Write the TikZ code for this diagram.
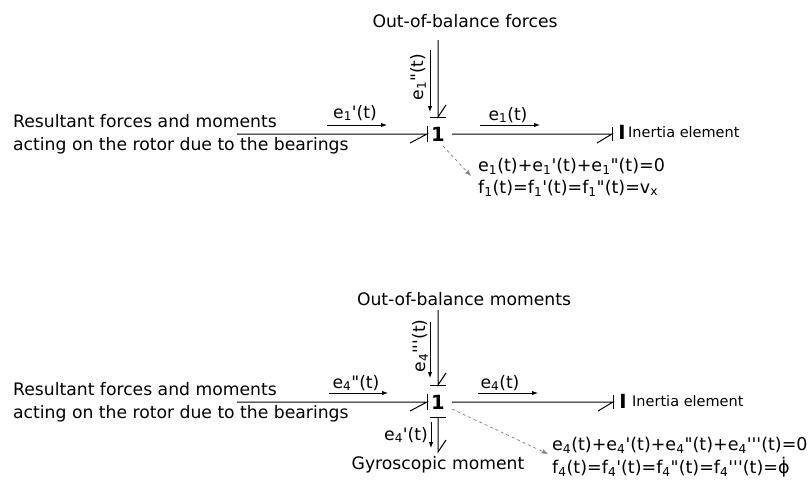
\documentclass[tikz,border=0pt]{standalone}
\usepackage{fontspec}
\setmainfont{DejaVu Sans}[Ligatures=TeXOff]
\usetikzlibrary{arrows.meta}

\begin{document}
\begin{tikzpicture}[
  x=1pt, y=-1pt,
  every node/.style={inner sep=0pt, font=\fontsize{17.2}{23}\selectfont},
  lbl/.style={anchor=west, align=left},
  eqn/.style={anchor=west, font=\fontsize{17.5}{17.5}\selectfont},
  junc/.style={font=\fontsize{19.5}{19.5}\selectfont\bfseries},
  small/.style={font=\fontsize{14.5}{14.5}\selectfont},
  bond/.style={line width=1pt},
  flow/.style={line width=0.9pt, -{Latex[length=6pt,width=4.5pt]}},
  info/.style={gray, dashed, line width=0.7pt, -{Latex[length=6pt,width=4.5pt]}},
]
\useasboundingbox (0,0) rectangle (810,480);

\node[lbl] (src1) at (13,134) {Resultant forces and moments\\acting on the rotor due to the bearings};
\node (ob1) at (465,21) {Out-of-balance forces};
\node[junc] (j1) at (438,134) {1};
\node[junc] (bar1) at (622,132) {I};
\node[lbl, small] (in1) at (628,132) {Inertia element};
\node (le1a) at (355,113) {e\textsubscript{1}'(t)};
\node[rotate=90] (le1b) at (418,77) {e\textsubscript{1}"(t)};
\node (le1) at (508,115) {e\textsubscript{1}(t)};
\node[eqn] (eq1a) at (478,166) {e\textsubscript{1}(t)+e\textsubscript{1}'(t)+e\textsubscript{1}"(t)=0};
\node[eqn] (eq1b) at (478,188) {f\textsubscript{1}(t)=f\textsubscript{1}'(t)=f\textsubscript{1}"(t)=v\textsubscript{x}};

\coordinate (s1) at (237,134);
\coordinate (t1) at (438,40);
\coordinate (r1) at (612,134);
\coordinate (i1) at (471,176);
\draw[bond] (s1) -- ([xshift=-11pt]j1.center) -- ++(-17,9);
\draw[bond] ([xshift=-11pt,yshift=8pt]j1.center) -- ([xshift=-11pt,yshift=-8pt]j1.center);
\draw[bond] (t1) -- ([yshift=17pt]j1.center) -- ++(8,-12);
\draw[bond] ([xshift=-8pt,yshift=17pt]j1.center) -- ([xshift=8pt,yshift=17pt]j1.center);
\draw[bond] ([xshift=14pt]j1.center) -- (r1) -- ++(-15,9);
\draw[bond] ([yshift=7pt]r1) -- ([yshift=-7pt]r1);

\coordinate (a1s) at (327,125);
\coordinate (a1e) at (387,125);
\coordinate (a2s) at (430,50);
\coordinate (a2e) at (430,112);
\coordinate (a3s) at (480,125);
\coordinate (a3e) at (540,125);
\draw[flow] (a1s) -- (a1e);
\draw[flow] (a2s) -- (a2e);
\draw[flow] (a3s) -- (a3e);
\draw[info] ([shift={(5,12)}]j1.center) -- (i1);

\node[lbl] (src2) at (13,402) {Resultant forces and moments\\acting on the rotor due to the bearings};
\node (ob2) at (464,299) {Out-of-balance moments};
\node[junc] (j2) at (438,402) {1};
\node[junc] (bar2) at (623,401) {I};
\node[lbl, small] (in2) at (632,401) {Inertia element};
\node (le2a) at (356,383) {e\textsubscript{4}"(t)};
\node[rotate=90] (le2b) at (420,346) {e\textsubscript{4}'''(t)};
\node (le2) at (500,383) {e\textsubscript{4}(t)};
\node (le2c) at (406,435) {e\textsubscript{4}'(t)};
\node (gy2) at (438,465) {Gyroscopic moment};
\node[eqn] (eq2a) at (552,445) {e\textsubscript{4}(t)+e\textsubscript{4}'(t)+e\textsubscript{4}"(t)+e\textsubscript{4}'''(t)=0};
\node[eqn] (eq2b) at (552,467) {f\textsubscript{4}(t)=f\textsubscript{4}'(t)=f\textsubscript{4}"(t)=f\textsubscript{4}'''(t)=ϕ̇};

\coordinate (s2) at (237,402);
\coordinate (t2) at (438,310);
\coordinate (r2) at (613,402);
\coordinate (d2) at (438,452);
\coordinate (i2) at (548,454);
\draw[bond] (s2) -- ([xshift=-11pt]j2.center) -- ++(-17,9);
\draw[bond] ([xshift=-11pt,yshift=8pt]j2.center) -- ([xshift=-11pt,yshift=-8pt]j2.center);
\draw[bond] (t2) -- ([yshift=17pt]j2.center) -- ++(8,-12);
\draw[bond] ([xshift=-8pt,yshift=17pt]j2.center) -- ([xshift=8pt,yshift=17pt]j2.center);
\draw[bond] ([xshift=14pt]j2.center) -- (r2) -- ++(-15,9);
\draw[bond] ([yshift=7pt]r2) -- ([yshift=-7pt]r2);
\draw[bond] ([yshift=-15pt]j2.center) -- (d2) -- ++(8,-12);
\draw[bond] ([xshift=-8pt,yshift=-15pt]j2.center) -- ([xshift=8pt,yshift=-15pt]j2.center);

\coordinate (b1s) at (329,393);
\coordinate (b1e) at (388,393);
\coordinate (b2s) at (430,322);
\coordinate (b2e) at (430,378);
\coordinate (b3s) at (478,393);
\coordinate (b3e) at (538,393);
\coordinate (b4s) at (431,422);
\coordinate (b4e) at (431,448);
\draw[flow] (b1s) -- (b1e);
\draw[flow] (b2s) -- (b2e);
\draw[flow] (b3s) -- (b3e);
\draw[flow] (b4s) -- (b4e);
\draw[info] ([shift={(14,7)}]j2.center) -- (i2);
\end{tikzpicture}
\end{document}
